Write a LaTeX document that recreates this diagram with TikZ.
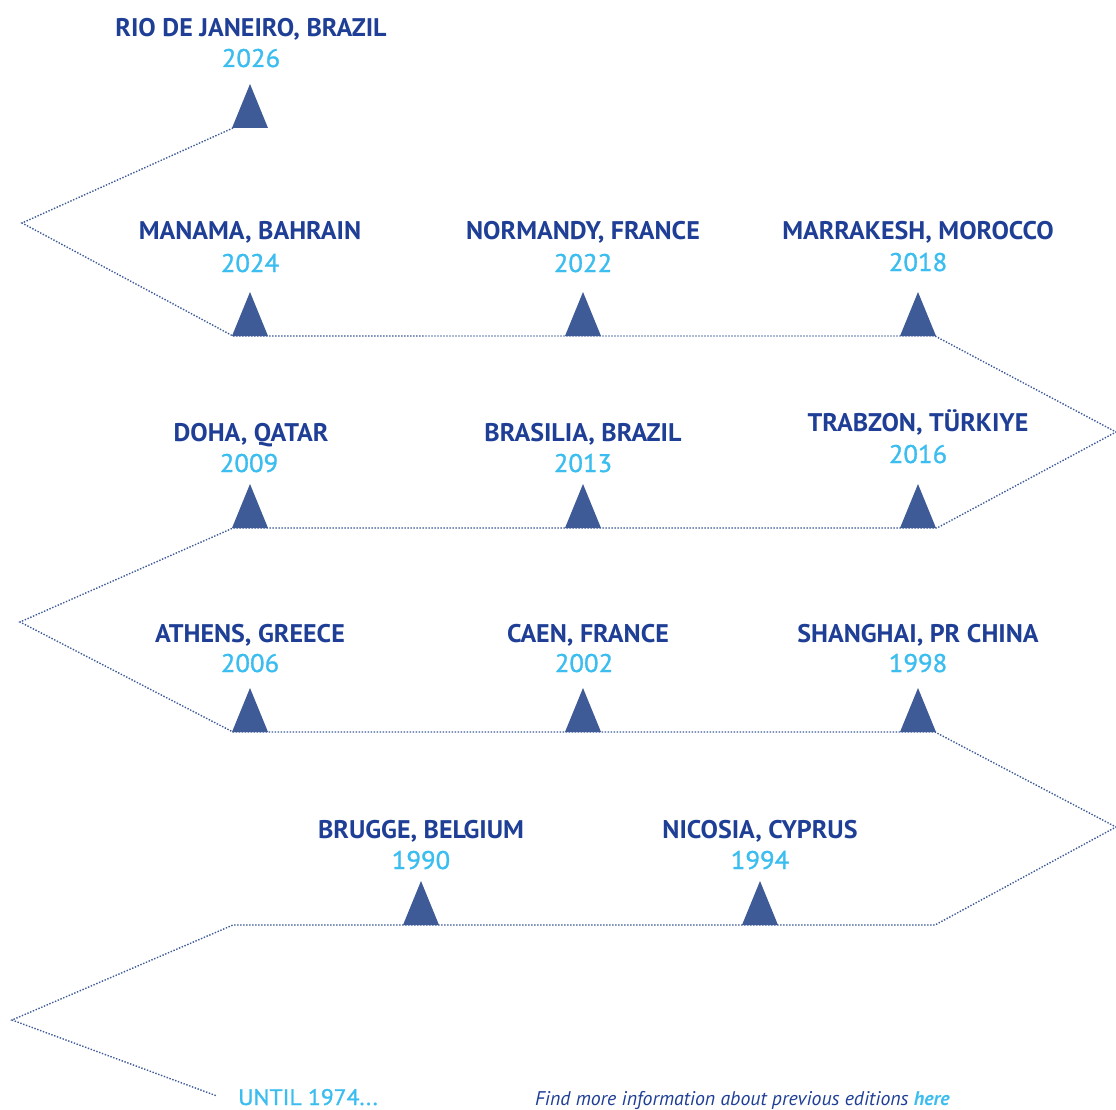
\documentclass[tikz,border=0pt]{standalone}
\usepackage{fontspec}
\usepackage{xcolor}
\newfontfamily\cityfont[FakeStretch=1.02]{PT Sans}
\newfontfamily\yearfont[FakeStretch=1.05, FakeBold=1.2]{PT Sans}
\newfontfamily\notefont{PT Sans}
\usetikzlibrary{positioning}

\definecolor{cityblue}{HTML}{1F3F96}
\definecolor{yearblue}{HTML}{3BBDF0}
\definecolor{markblue}{HTML}{3E5B97}

\begin{document}
\begin{tikzpicture}[x=1pt, y=-1pt,
    city/.style={font=\cityfont\bfseries\fontsize{25.5}{25.5}\selectfont, text=cityblue, inner sep=0pt, anchor=base},
    year/.style={font=\yearfont\fontsize{25.5}{25.5}\selectfont, text=yearblue, inner sep=0pt, anchor=base},
    note/.style={font=\notefont\itshape\fontsize{19.8}{19.8}\selectfont, text=cityblue, inner sep=0pt, anchor=base west},
    trail/.style={draw=markblue, line width=1.4pt, dash pattern=on 1.4pt off 1.6pt},
    pin/.pic={\fill[markblue] (-18,0) -- (0,-44) -- (18,0) -- cycle;}]
    \useasboundingbox (0, 0) rectangle (1116, 1110);

    % corners of the trail
    \coordinate (a) at (233, 128);
    \coordinate (b) at (22, 223);
    \coordinate (c) at (233, 336);
    \coordinate (d) at (935, 336);
    \coordinate (e) at (1116, 432);
    \coordinate (f) at (937, 528);
    \coordinate (g) at (233, 528);
    \coordinate (h) at (20, 622);
    \coordinate (i) at (233, 732);
    \coordinate (j) at (935, 732);
    \coordinate (k) at (1116, 827);
    \coordinate (l) at (935, 925);
    \coordinate (m) at (233, 925);
    \coordinate (n) at (12, 1020);
    \coordinate (o) at (217, 1096);
    \draw [trail] (a) -- (b) -- (c) -- (d) -- (e) -- (f) -- (g) -- (h) -- (i)
        -- (j) -- (k) -- (l) -- (m) -- (n) -- (o);

    % markers
    \coordinate (p2026) at (250, 128);
    \coordinate (p2024) at (250, 336);
    \coordinate (p2022) at (583, 336);
    \coordinate (p2018) at (918, 336);
    \coordinate (p2009) at (250, 528);
    \coordinate (p2013) at (583, 528);
    \coordinate (p2016) at (918, 528);
    \coordinate (p2006) at (250, 732);
    \coordinate (p2002) at (583, 732);
    \coordinate (p1998) at (918, 732);
    \coordinate (p1990) at (421, 925);
    \coordinate (p1994) at (760, 925);
    \foreach \p in {p2026,p2024,p2022,p2018,p2009,p2013,p2016,p2006,p2002,p1998,p1990,p1994}
        \pic at (\p) {pin};

    % editions
    \path (251, 37) node [city] (rio) {RIO DE JANEIRO, BRAZIL};
    \path (251, 67) node [year] (y2026) {2026};
    \path (250, 240) node [city] (manama) {MANAMA, BAHRAIN};
    \path (250, 272) node [year] (y2024) {2024};
    \path (583, 240) node [city] (normandy) {NORMANDY, FRANCE};
    \path (583, 272) node [year] (y2022) {2022};
    \path (918, 239) node [city] (marrakesh) {MARRAKESH, MOROCCO};
    \path (918, 271) node [year] (y2018) {2018};
    \path (251, 441) node [city] (doha) {DOHA, QATAR};
    \path (249, 472) node [year] (y2009) {2009};
    \path (583, 441) node [city] (brasilia) {BRASILIA, BRAZIL};
    \path (583, 472) node [year] (y2013) {2013};
    \path (918, 431) node [city] (trabzon) {TRABZON, TÜRKIYE};
    \path (918, 463) node [year] (y2016) {2016};
    \path (250, 642) node [city] (athens) {ATHENS, GREECE};
    \path (250, 672) node [year] (y2006) {2006};
    \path (588, 642) node [city] (caen) {CAEN, FRANCE};
    \path (584, 672) node [year] (y2002) {2002};
    \path (918, 642) node [city] (shanghai) {SHANGHAI, PR CHINA};
    \path (918, 672) node [year] (y1998) {1998};
    \path (421, 838) node [city] (brugge) {BRUGGE, BELGIUM};
    \path (421, 869) node [year] (y1990) {1990};
    \path (760, 838) node [city] (nicosia) {NICOSIA, CYPRUS};
    \path (760, 869) node [year] (y1994) {1994};

    % footer
    \path (238, 1105) node [year, anchor=base west, font=\yearfont\fontsize{22.5}{22.5}\selectfont] (until) {UNTIL 1974...};
    \path (535, 1105) node [note] (more) {Find more information about previous editions \textbf{\color{yearblue}here}};
\end{tikzpicture}
\end{document}
